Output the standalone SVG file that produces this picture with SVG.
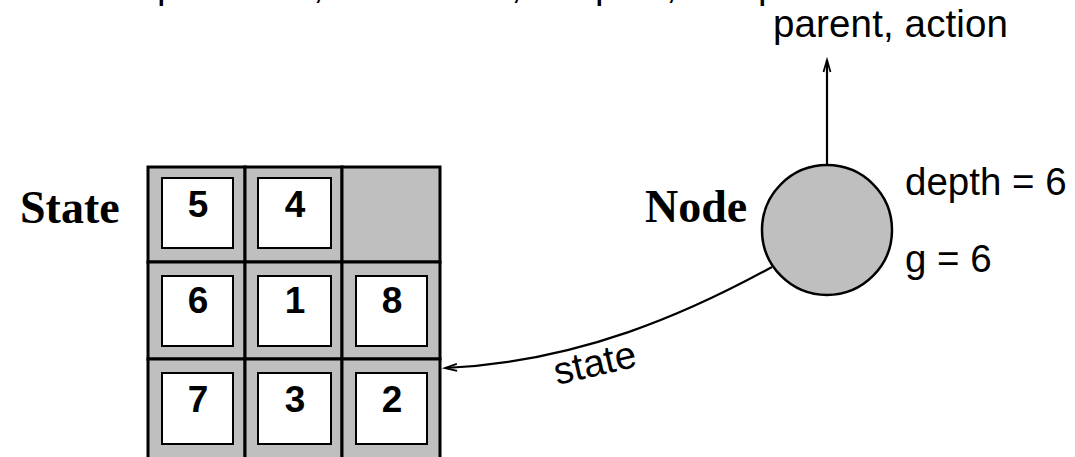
<svg xmlns="http://www.w3.org/2000/svg" width="1075" height="457" viewBox="0 0 1075 457">
<style>
.sans{font-family:"Liberation Sans",Arial,sans-serif;font-size:38.5px;fill:#000}
.serif{font-family:"Liberation Serif","Times New Roman",serif;font-weight:bold;font-size:46px;fill:#000}
.num{font-family:"Liberation Sans",Arial,sans-serif;font-weight:bold;font-size:37px;fill:#000;text-anchor:middle}
.cell{fill:#bfbfbf;stroke:#000;stroke-width:3}
.tile{fill:#fff;stroke:#000;stroke-width:2}
.conn{fill:none;stroke:#000;stroke-width:2.2}
</style>
<defs>
<marker id="arr" markerUnits="userSpaceOnUse" viewBox="-14 -5 16 10" refX="0" refY="0" markerWidth="16" markerHeight="10" orient="auto" overflow="visible">
<path d="M-12,-3.5 L0,0 L-12,3.5" fill="none" stroke="#000" stroke-width="1.8"/>
</marker>
</defs>
<rect width="1075" height="457" fill="#fff"/>
<text id="cut-line" class="sans" y="-2"><tspan x="157">p</tspan><tspan x="313">,</tspan><tspan x="511">,</tspan><tspan x="595">p</tspan><tspan x="666">,</tspan><tspan x="758">p</tspan></text>
<g id="state-label"><text class="serif" x="20" y="223">State</text></g>
<g id="state-grid">
<rect class="cell" x="148" y="167" width="97" height="95"/>
<rect class="cell" x="245" y="167" width="97" height="95"/>
<rect class="cell" x="342" y="167" width="98" height="95"/>
<rect class="cell" x="148" y="262" width="97" height="97"/>
<rect class="cell" x="245" y="262" width="97" height="97"/>
<rect class="cell" x="342" y="262" width="98" height="97"/>
<rect class="cell" x="148" y="359" width="97" height="100"/>
<rect class="cell" x="245" y="359" width="97" height="100"/>
<rect class="cell" x="342" y="359" width="98" height="100"/>
<g id="tile-5"><rect class="tile" x="162" y="178" width="71" height="70"/><text class="num" x="198" y="217">5</text></g>
<g id="tile-4"><rect class="tile" x="258" y="178" width="73" height="70"/><text class="num" x="295" y="217">4</text></g>
<g id="tile-6"><rect class="tile" x="162" y="276" width="71" height="70"/><text class="num" x="198" y="313">6</text></g>
<g id="tile-1"><rect class="tile" x="258" y="276" width="73" height="70"/><text class="num" x="295" y="313">1</text></g>
<g id="tile-8"><rect class="tile" x="356" y="276" width="71" height="70"/><text class="num" x="392" y="313">8</text></g>
<g id="tile-7"><rect class="tile" x="162" y="373" width="71" height="71"/><text class="num" x="198" y="412">7</text></g>
<g id="tile-3"><rect class="tile" x="258" y="373" width="73" height="71"/><text class="num" x="295" y="412">3</text></g>
<g id="tile-2"><rect class="tile" x="356" y="373" width="71" height="71"/><text class="num" x="392" y="412">2</text></g>
</g>
<g id="node">
<circle cx="827" cy="230" r="65" fill="#bfbfbf" stroke="#000" stroke-width="2.5"/>
<text class="serif" x="645" y="222">Node</text>
<text class="sans" x="905" y="195">depth = 6</text>
<text class="sans" x="905" y="272">g = 6</text>
</g>
<g id="parent-label"><text class="sans" x="773" y="37" textLength="235">parent, action</text></g>
<g id="connectors">
<path class="conn" d="M827,165 L827,60" marker-end="url(#arr)"/>
<path class="conn" d="M772,267 C690,312 580,362 445,368" marker-end="url(#arr)"/>
<text class="sans" x="0" y="0" transform="translate(557,385) rotate(-13)">state</text>
</g>
</svg>
